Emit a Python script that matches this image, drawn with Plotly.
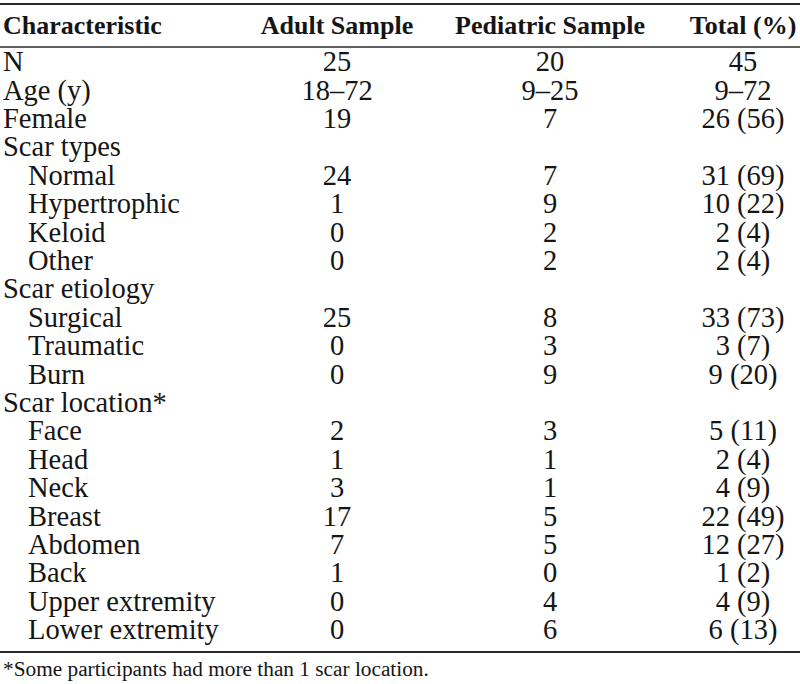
import plotly.graph_objects as go

# ---- data ----
headers = ["Characteristic", "Adult Sample", "Pediatric Sample", "Total (%)"]
characteristics = ["N", "Age (y)", "Female", "Scar types", "Normal", "Hypertrophic",
                   "Keloid", "Other", "Scar etiology", "Surgical", "Traumatic", "Burn",
                   "Scar location*", "Face", "Head", "Neck", "Breast", "Abdomen", "Back",
                   "Upper extremity", "Lower extremity"]
indented = [0, 0, 0, 0, 1, 1, 1, 1, 0, 1, 1, 1, 0, 1, 1, 1, 1, 1, 1, 1, 1]
adult = ["25", "18–72", "19", "", "24", "1", "0", "0", "", "25", "0", "0", "",
         "2", "1", "3", "17", "7", "1", "0", "0"]
pediatric = ["20", "9–25", "7", "", "7", "9", "2", "2", "", "8", "3", "9", "",
             "3", "1", "1", "5", "5", "0", "4", "6"]
total = ["45", "9–72", "26 (56)", "", "31 (69)", "10 (22)", "2 (4)", "2 (4)", "",
         "33 (73)", "3 (7)", "9 (20)", "", "5 (11)", "2 (4)", "4 (9)", "22 (49)",
         "12 (27)", "1 (2)", "4 (9)", "6 (13)"]
footnote = "*Some participants had more than 1 scar location."

# ---- layout geometry ----
W, H = 800, 684
row0_px, pitch = 64, 28.4
def r(px):
    return (px - row0_px) / pitch

col_x = [3, 337, 550, 743]
indent_px = 25
FONT = "Liberation Serif, Times New Roman, serif"
TXT = "#151515"
body_size = 28.5
head_size = 26

rows = list(range(len(characteristics)))
fig = go.Figure()

# first column
fig.add_trace(go.Scatter(
    x=[col_x[0] + indent_px * k for k in indented], y=rows, text=characteristics,
    mode="text", textposition="middle right",
    textfont=dict(family=FONT, size=body_size, color=TXT), hoverinfo="skip"))
# value columns
for cx, vals in zip(col_x[1:], [adult, pediatric, total]):
    fig.add_trace(go.Scatter(
        x=[cx] * len(vals), y=rows, text=vals, mode="text", textposition="middle center",
        textfont=dict(family=FONT, size=body_size, color=TXT), hoverinfo="skip"))
# headers
hy = r(27)
fig.add_trace(go.Scatter(
    x=[col_x[0]], y=[hy], text=["<b>" + headers[0] + "</b>"], mode="text",
    textposition="middle right", textfont=dict(family=FONT, size=head_size, color=TXT),
    hoverinfo="skip"))
fig.add_trace(go.Scatter(
    x=col_x[1:], y=[hy] * 3, text=["<b>" + h + "</b>" for h in headers[1:]], mode="text",
    textposition="middle center", textfont=dict(family=FONT, size=head_size, color=TXT),
    hoverinfo="skip"))
# footnote
fig.add_trace(go.Scatter(
    x=[col_x[0]], y=[r(671)], text=[footnote], mode="text", textposition="middle right",
    textfont=dict(family=FONT, size=21.3, color=TXT), hoverinfo="skip"))

# rules
for py, lw in [(4, 2.2), (47, 1.6), (652, 2.2)]:
    fig.add_shape(type="line", x0=0, x1=W, y0=r(py), y1=r(py),
                  line=dict(color="#2a2a2a", width=lw))

fig.update_layout(
    width=W, height=H, margin=dict(l=0, r=0, t=0, b=0),
    paper_bgcolor="white", plot_bgcolor="white", showlegend=False,
    xaxis=dict(range=[0, W], visible=False, fixedrange=True),
    yaxis=dict(range=[r(H), r(0)], visible=False, fixedrange=True),
)
fig.write_html("out.html", config={"displayModeBar": False},
               post_script="document.body.style.margin='0';document.body.style.overflow='hidden';")
